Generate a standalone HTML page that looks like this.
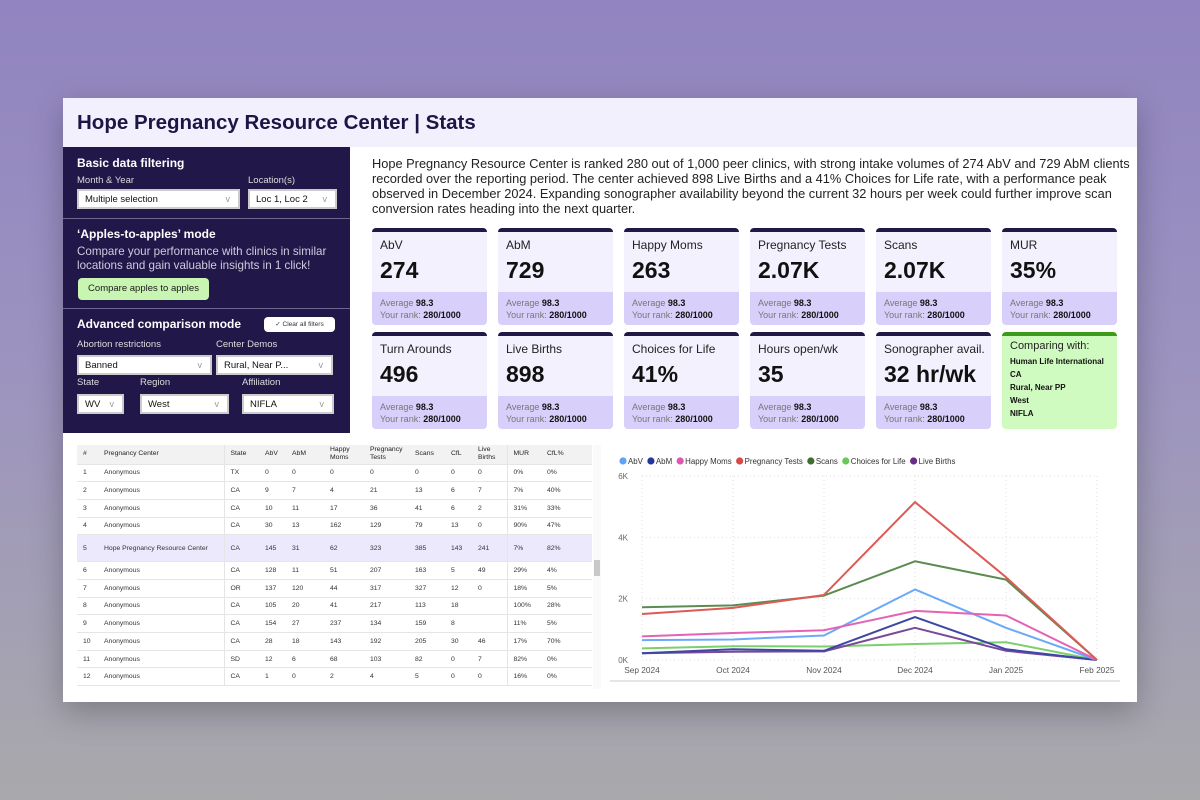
<!DOCTYPE html>
<html><head><meta charset="utf-8">
<style>
*{box-sizing:border-box;margin:0;padding:0}
body{width:1200px;height:800px;overflow:hidden;font-family:"Liberation Sans",sans-serif;background:linear-gradient(180deg,#9184c0 0%,#9c93c0 45%,#a9a9ab 100%);position:relative}
.abs{position:absolute}
#card{left:63px;top:98px;width:1074px;height:604px;background:#fff;box-shadow:0 10px 30px rgba(0,0,0,.25)}
#hdr{left:0;top:0;width:1074px;height:49px;background:#f2f0fd}
#hdr h1{position:absolute;left:14px;top:13px;font-size:20.5px;font-weight:bold;color:#1e1545}
#side{left:0;top:49px;width:287px;height:286px;background:#211748;color:#fff}
.sec{position:absolute;left:0;width:287px;border-bottom:1px solid #6d6590}
.t{position:absolute;font-size:12px;font-weight:bold;color:#fff}
.l{position:absolute;font-size:9.5px;color:#ddd}
.dd{position:absolute;background:#fff;border:2px solid #ccc;height:20px;font-size:9.5px;color:#111;padding:3px 0 0 6px}
.dd:after{content:"v";position:absolute;right:8px;top:3px;color:#999;font-size:9px}
.kpi{position:absolute;width:115px;height:97px;background:#f3f1fd;border-radius:4px;border-top:4px solid #221846;overflow:hidden}
.kpi .n{position:absolute;left:8px;top:6px;font-size:12px;color:#222}
.kpi .v{position:absolute;left:8px;top:25px;font-size:23px;font-weight:bold;color:#111}
.kpi .b{position:absolute;left:0;top:60px;width:115px;height:37px;background:#d8cffa;font-size:9px;color:#777;padding:5px 8px;line-height:12px}
.kpi .b b{color:#111}
table{border-collapse:collapse;font-size:6.8px;color:#333;table-layout:fixed}
td,th{height:17.7px;padding:0 6px;border-bottom:1px solid #e5e5e5;text-align:left;font-weight:normal;white-space:nowrap;overflow:hidden}
th{background:#f2f2f2;height:19px;color:#222;line-height:8px}
tr.hl td{background:#ece9fc;height:27px}
</style></head><body>
<div id="card" class="abs">
 <div id="hdr" class="abs"><h1>Hope Pregnancy Resource Center | Stats</h1></div>
 <div id="side" class="abs">
  <div class="sec" style="top:0;height:72px">
   <div class="t" style="left:14px;top:9px">Basic data filtering</div>
   <div class="l" style="left:14px;top:28px">Month &amp; Year</div>
   <div class="l" style="left:185px;top:28px">Location(s)</div>
   <div class="dd" style="left:14px;top:42px;width:163px">Multiple selection</div>
   <div class="dd" style="left:185px;top:42px;width:89px">Loc 1, Loc 2</div>
  </div>
  <div class="sec" style="top:72px;height:90px">
   <div class="t" style="left:14px;top:8px">‘Apples-to-apples’ mode</div>
   <div class="l" style="left:14px;top:26px;font-size:11.6px;line-height:13.5px;color:#cfcbe0;width:272px">Compare your performance with clinics in similar locations and gain valuable insights in 1 click!</div>
   <div class="abs" style="left:15px;top:59px;width:131px;height:22px;background:#c9f5b3;border-radius:4px;color:#1a1a1a;font-size:9.5px;text-align:center;line-height:22px">Compare apples to apples</div>
  </div>
  <div class="sec" style="top:162px;height:124px;border:none">
   <div class="t" style="left:14px;top:8px">Advanced comparison mode</div>
   <div class="abs" style="left:201px;top:8px;width:71px;height:15px;background:#fff;border-radius:4px;color:#333;font-size:6.5px;text-align:center;line-height:15px">✓ Clear all filters</div>
   <div class="l" style="left:14px;top:30px">Abortion restrictions</div>
   <div class="l" style="left:153px;top:30px">Center Demos</div>
   <div class="dd" style="left:14px;top:46px;width:135px">Banned</div>
   <div class="dd" style="left:153px;top:46px;width:117px">Rural, Near P...</div>
   <div class="l" style="left:14px;top:68px">State</div>
   <div class="l" style="left:77px;top:68px">Region</div>
   <div class="l" style="left:179px;top:68px">Affiliation</div>
   <div class="dd" style="left:14px;top:85px;width:47px">WV</div>
   <div class="dd" style="left:77px;top:85px;width:89px">West</div>
   <div class="dd" style="left:179px;top:85px;width:92px">NIFLA</div>
  </div>
 </div>
 <div class="abs" style="left:309px;top:58px;width:764px;font-size:12.8px;line-height:15px;color:#222">Hope Pregnancy Resource Center is ranked 280 out of 1,000 peer clinics, with strong intake volumes of 274 AbV and 729 AbM clients recorded over the reporting period. The center achieved 898 Live Births and a 41% Choices for Life rate, with a performance peak observed in December 2024. Expanding sonographer availability beyond the current 32 hours per week could further improve scan conversion rates heading into the next quarter.</div>
 <div class="abs" style="left:14px;top:347px;width:524px;height:244px;overflow:hidden">
  <table id="tbl" style="width:515px"></table>
  <div class="abs" style="left:516px;top:0;width:8px;height:244px;background:#fafafa"><div class="abs" style="left:1px;top:115px;width:6px;height:16px;background:#c8c8c8"></div></div>
 </div>
 <svg class="abs" style="left:547px;top:350px" width="520" height="245" id="chart"></svg>
</div>
<script>
const kpiNames=["AbV","AbM","Happy Moms","Pregnancy Tests","Scans","MUR","Turn Arounds","Live Births","Choices for Life","Hours open/wk","Sonographer avail."];
const kpiVals=["274","729","263","2.07K","2.07K","35%","496","898","41%","35","32 hr/wk"];
const card=document.getElementById('card');
kpiNames.forEach((n,i)=>{
 const d=document.createElement('div');
 d.className='kpi';
 
 
 d.style.left=(309+(i%6)*126)+'px';d.style.top=(130+Math.floor(i/6)*104)+'px';
 d.innerHTML='<div class="n">'+n+'</div><div class="v">'+kpiVals[i]+'</div><div class="b">Average <b>98.3</b><br>Your rank: <b>280/1000</b></div>';
 card.appendChild(d);
});
const cmp=document.createElement('div');


cmp.className='kpi';
cmp.style.cssText='left:939px;top:234px;background:#d0fbc0;border-top-color:#3d9b1c';
cmp.innerHTML='<div style="position:absolute;left:8px;top:4px;font-size:11px;color:#222">Comparing with:</div><div style="position:absolute;left:8px;top:19px;font-size:8px;font-weight:bold;line-height:13px;color:#111">Human Life International<br>CA<br>Rural, Near PP<br>West<br>NIFLA</div>';
card.appendChild(cmp);
const cols=["#","Pregnancy Center","State","AbV","AbM","Happy<br>Moms","Pregnancy<br>Tests","Scans","CfL","Live<br>Births","MUR","CfL%"];
const widths=[21,126,35,27,38,40,45,36,27,35,34,51];
const rows=[
["1","Anonymous","TX","0","0","0","0","0","0","0","0%","0%"],
["2","Anonymous","CA","9","7","4","21","13","6","7","7%","40%"],
["3","Anonymous","CA","10","11","17","36","41","6","2","31%","33%"],
["4","Anonymous","CA","30","13","162","129","79","13","0","90%","47%"],
["5","Hope Pregnancy Resource Center","CA","145","31","62","323","385","143","241","7%","82%"],
["6","Anonymous","CA","128","11","51","207","163","5","49","29%","4%"],
["7","Anonymous","OR","137","120","44","317","327","12","0","18%","5%"],
["8","Anonymous","CA","105","20","41","217","113","18","","100%","28%"],
["9","Anonymous","CA","154","27","237","134","159","8","","11%","5%"],
["10","Anonymous","CA","28","18","143","192","205","30","46","17%","70%"],
["11","Anonymous","SD","12","6","68","103","82","0","7","82%","0%"],
["12","Anonymous","CA","1","0","2","4","5","0","0","16%","0%"]];
let h='<colgroup>'+widths.map(w=>'<col style="width:'+w+'px">').join('')+'</colgroup><tr>'+cols.map((c,i)=>'<th style="'+(i==2||i==10?'border-left:1px solid #e5e5e5':'')+'">'+c+'</th>').join('')+'</tr>';
rows.forEach((r,k)=>{h+='<tr class="'+(k==4?'hl':'')+'">'+r.map((c,i)=>'<td style="'+(i==2||i==10?'border-left:1px solid #e5e5e5':'')+'">'+c+'</td>').join('')+'</tr>';});
document.getElementById('tbl').innerHTML=h;
document.querySelectorAll('#tbl tr').forEach(t=>{});
</script>
<script>
const months=["Sep 2024","Oct 2024","Nov 2024","Dec 2024","Jan 2025","Feb 2025"];
const yTicks=[0,2,4,6];
const seriesNames=["AbV","AbM","Happy Moms","Pregnancy Tests","Scans","Choices for Life","Live Births"];
const seriesColors=["#5fa2f6","#24369e","#e055b0","#d8484a","#3e6f2e","#6cc75a","#6a2c86"];
const lineColors=["#6aaaf7","#3c47a6","#e463b6","#dc5b57","#5d8b50","#7ccf6c","#7a4a98"];
const abv=[0.65,0.67,0.8,2.3,1.05,0];
const abm=[0.22,0.35,0.3,1.4,0.35,0];
const happyMoms=[0.77,0.88,0.97,1.6,1.45,0];
const pregTests=[1.5,1.7,2.12,5.15,2.7,0];
const scans=[1.72,1.78,2.1,3.22,2.62,0];
const cfl=[0.38,0.45,0.44,0.52,0.58,0];
const liveBirths=[0.22,0.27,0.28,1.05,0.3,0];
const allSeries=[abv,abm,happyMoms,pregTests,scans,cfl,liveBirths];
const drawOrder=[5,6,1,0,2,4,3];
const svg=document.getElementById('chart');
const NS='http://www.w3.org/2000/svg';
function el(t,a){const e=document.createElementNS(NS,t);for(const k in a)e.setAttribute(k,a[k]);svg.appendChild(e);return e;}
function PX(i){return 32+i*(487-32)/5;}
function PY(v){return 212-(v/6)*(212-28);}
yTicks.forEach(t=>{
 const g=el('line',{x1:32,x2:487,y1:PY(t),y2:PY(t),stroke:'#ddd','stroke-dasharray':'1,3'});
 
 const tx=el('text',{x:18,y:PY(t)+3,'text-anchor':'end','font-size':'8','fill':'#666'});
 tx.textContent=t+'K';
 
});
months.forEach((m,i)=>{
 const g=el('line',{x1:PX(i),x2:PX(i),y1:28,y2:212,stroke:'#ddd','stroke-dasharray':'1,3'});
 
 const tx=el('text',{x:PX(i),y:225,'text-anchor':'middle','font-size':'8.3','fill':'#555'});
 tx.textContent=m;
 
});
el('line',{x1:0,x2:510,y1:233,y2:233,stroke:'#ccc'});
drawOrder.forEach(s=>{
 const p=el('polyline',{points:allSeries[s].map((v,i)=>PX(i)+','+PY(v)).join(' '),fill:'none',stroke:lineColors[s],'stroke-width':'2','stroke-linejoin':'round'});
 
});
let lx=9;
seriesNames.forEach((n,i)=>{
 const c=el('circle',{cx:lx+4,cy:13,r:3.6,fill:seriesColors[i]});
 
 const t=el('text',{x:lx+9,y:16,'font-size':'7.9','fill':'#333'});
 t.textContent=n;
 
 lx+=9+t.getComputedTextLength()+4;
});
</script>
</body></html>
